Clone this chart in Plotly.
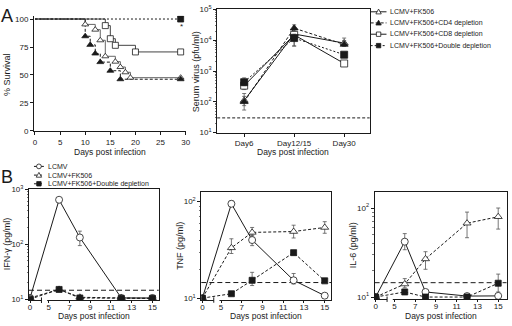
import plotly.graph_objects as go

W, H = 512, 326
FONT = "Liberation Sans, Arial, Helvetica, sans-serif"
INK = "#1a1a1a"
ERR = "#555555"

# ---------------- Panel A (left): survival ----------------
surv_fk506_days = [0, 10, 12, 13, 14, 16, 17, 18, 19, 29]
surv_fk506 = [100, 95.2, 90.5, 81.0, 66.7, 61.9, 57.1, 52.4, 47.6, 47.6]
surv_cd4_days = [0, 10, 11, 12, 13, 15, 17, 29]
surv_cd4 = [100, 84.6, 76.9, 69.2, 61.5, 53.8, 46.2, 46.2]
surv_cd8_days = [0, 14, 15, 16, 20, 29]
surv_cd8 = [100, 94.1, 82.4, 76.5, 70.6, 70.6]
surv_dbl_days = [0, 29]
surv_dbl = [100, 100]
surv_xticks = [0, 5, 10, 15, 20, 25, 30]
surv_yticks = [0, 25, 50, 75, 100]

# ---------------- Panel A (right): serum virus ----------------
virus_days = ["Day6", "Day12/15", "Day30"]
virus_fk506 = [110, 16000, 8100]
virus_fk506_up = [40, 9000, 3700]
virus_fk506_dn = [35, 6000, 1400]
virus_cd4 = [100, 24700, 7300]
virus_cd4_up = [86, 7000, 2500]
virus_cd4_dn = [46, 5000, 1000]
virus_cd8 = [335, 15000, 1760]
virus_cd8_up = [100, 5000, 300]
virus_cd8_dn = [85, 8500, 250]
virus_dbl = [435, 11800, 3400]
virus_dbl_up = [165, 4000, 600]
virus_dbl_dn = [100, 5300, 500]
virus_limit = 30
virus_yticks = [10, 100, 1000, 10000, 100000]
virus_yticktext = ["10<sup>1</sup>", "10<sup>2</sup>", "10<sup>3</sup>", "10<sup>4</sup>", "10<sup>5</sup>"]

# ---------------- Panel B: cytokines ----------------
cyt_days = [0, 6, 8, 12, 15]
cyt_xticks = [0, 5, 7, 9, 11, 13, 15]

ifn_lcmv = [10.5, 640, 132, 10.5, 10.5]
ifn_lcmv_up = [0, 60, 40, 0, 0]
ifn_lcmv_dn = [0, 50, 38, 0, 0]
ifn_fk506 = [10.5, 15, 10.8, 10.5, 10.3]
ifn_dbl = [10, 15, 10.5, 10.3, 10.3]

tnf_lcmv = [10, 95, 40, 15.3, 10.6]
tnf_lcmv_up = [0, 7, 5, 2.7, 0]
tnf_lcmv_dn = [0, 5, 5, 1.3, 0]
tnf_fk506 = [10, 33.2, 48, 49, 54]
tnf_fk506_up = [0, 8, 6, 8, 8]
tnf_fk506_dn = [0, 4.2, 4, 7, 7]
tnf_dbl = [10, 11.1, 15.3, 29.6, 15.1]
tnf_dbl_up = [0, 0, 3.2, 1.4, 0.9]
tnf_dbl_dn = [0, 0, 1.8, 1.6, 0.6]

il6_lcmv = [10, 41.9, 11.4, 10.25, 10.3]
il6_lcmv_up = [0, 9.7, 0, 0, 0]
il6_lcmv_dn = [0, 7.9, 0, 0, 0]
il6_fk506 = [10, 14, 26.8, 67.5, 79.8]
il6_fk506_up = [0, 2.1, 5.5, 22.5, 20.2]
il6_fk506_dn = [0, 1.3, 6.3, 21.1, 21.8]
il6_dbl = [10, 11.4, 10, 10, 14.3]
il6_dbl_up = [0, 0, 0, 0, 3.8]
il6_dbl_dn = [0, 0, 0, 0, 2.9]

cyt_limit = 14.5

# broken x axis: day 0 is drawn just before day 5
BREAK_ZERO = 3.2


def axis_pos(d):
    return d if d >= 5 else BREAK_ZERO + d * (4.0 - BREAK_ZERO) / 5.0


def fx(p):
    return p / W


def fy(p):
    return 1 - p / H


fig = go.Figure()

# ---------- survival traces ----------
surv_sets = [
    (surv_fk506_days, surv_fk506, "#666666", "solid", "triangle-up", "white"),
    (surv_cd4_days, surv_cd4, INK, "3px,2px", "triangle-up", INK),
    (surv_cd8_days, surv_cd8, "#444444", "solid", "square", "white"),
    (surv_dbl_days, surv_dbl, INK, "2px,2px", "square", INK),
]
for xs, ys, col, dash, sym, fill in surv_sets:
    fig.add_trace(go.Scatter(x=xs, y=ys, mode="lines", line=dict(color=col, width=1, dash=dash, shape="hv"),
                             xaxis="x", yaxis="y", showlegend=False, hoverinfo="skip"))
for xs, ys, col, dash, sym, fill in surv_sets:
    fig.add_trace(go.Scatter(x=xs[1:], y=ys[1:], mode="markers",
                             marker=dict(symbol=sym, size=6, color=fill, line=dict(color=INK, width=0.8)),
                             xaxis="x", yaxis="y", showlegend=False))

# ---------- serum virus traces ----------
virus_sets = [
    (virus_fk506, virus_fk506_up, virus_fk506_dn, "solid", "triangle-up", "white"),
    (virus_cd4, virus_cd4_up, virus_cd4_dn, "3px,2px", "triangle-up", INK),
    (virus_cd8, virus_cd8_up, virus_cd8_dn, "solid", "square", "white"),
    (virus_dbl, virus_dbl_up, virus_dbl_dn, "2px,2px", "square", INK),
]
for ys, up, dn, dash, sym, fill in virus_sets:
    fig.add_trace(go.Scatter(x=virus_days, y=ys, mode="lines+markers",
                             line=dict(color=INK, width=1, dash=dash),
                             marker=dict(symbol=sym, size=7, color=fill, line=dict(color=INK, width=0.8)),
                             error_y=dict(type="data", array=up, arrayminus=dn, color=ERR, thickness=0.8, width=2),
                             xaxis="x2", yaxis="y2", showlegend=False))

# ---------- cytokine traces ----------
cx = [axis_pos(d) for d in cyt_days]
panels = [
    ("3", [(ifn_lcmv, ifn_lcmv_up, ifn_lcmv_dn), (ifn_fk506, None, None), (ifn_dbl, None, None)]),
    ("4", [(tnf_lcmv, tnf_lcmv_up, tnf_lcmv_dn), (tnf_fk506, tnf_fk506_up, tnf_fk506_dn), (tnf_dbl, tnf_dbl_up, tnf_dbl_dn)]),
    ("5", [(il6_lcmv, il6_lcmv_up, il6_lcmv_dn), (il6_fk506, il6_fk506_up, il6_fk506_dn), (il6_dbl, il6_dbl_up, il6_dbl_dn)]),
]
cyt_styles = [
    ("solid", "circle", "white", 7),
    ("3px,2px", "triangle-up", "white", 7),
    ("3px,2px", "square", INK, 6),
]
for n, series in panels:
    for (ys, up, dn), (dash, sym, fill, sz) in zip(series, cyt_styles):
        ey = dict(type="data", array=up, arrayminus=dn, color=ERR, thickness=0.8, width=2) if up else None
        fig.add_trace(go.Scatter(x=cx, y=ys, mode="lines+markers",
                                 line=dict(color=INK, width=1, dash=dash),
                                 marker=dict(symbol=sym, size=sz, color=fill, line=dict(color=INK, width=0.8)),
                                 error_y=ey, xaxis="x" + n, yaxis="y" + n, showlegend=False))

# ---------- axes ----------
base = dict(showgrid=False, zeroline=False, showline=True, linecolor=INK, linewidth=1,
            ticks="outside", ticklen=3, tickwidth=1, tickcolor=INK,
            tickfont=dict(family=FONT, size=8, color=INK))
minor = dict(ticks="outside", ticklen=1.5, tickwidth=0.6, tickcolor=INK, dtick="D1", showgrid=False)

layout = dict(
    width=W, height=H, margin=dict(l=0, r=0, t=0, b=0),
    paper_bgcolor="white", plot_bgcolor="white", showlegend=False,
    font=dict(family=FONT, size=8, color=INK),
    xaxis=dict(base, domain=[fx(33.3), fx(187)], range=[-0.2, 30.1], tickvals=surv_xticks, anchor="y"),
    yaxis=dict(base, domain=[fy(129.3), fy(10)], range=[0, 103], tickvals=surv_yticks, anchor="x"),
    xaxis2=dict(base, domain=[fx(218.3), fx(372.3)], type="category", range=[-0.54, 2.51], mirror=True, anchor="y2"),
    yaxis2=dict(base, domain=[fy(131), fy(3.3)], type="log", range=[1, 5.01], tickvals=virus_yticks,
                ticktext=virus_yticktext, mirror=True, minor=minor, anchor="x2"),
)
cyt_geo = {
    "3": ([28.3, 159.3], [304.5, 189.5], [3.1, 15.61], [0.98, 3.0],
          [10, 100, 1000], ["10<sup>1</sup>", "10<sup>2</sup>", "10<sup>3</sup>"]),
    "4": ([202.3, 333.3], [304.3, 192.5], [3.1, 15.61], [0.98, 2.10],
          [10, 100], ["10<sup>1</sup>", "10<sup>2</sup>"]),
    "5": ([377.3, 510.5], [303.5, 192.5], [3.1, 15.8], [0.975, 2.18],
          [10, 100], ["10<sup>1</sup>", "10<sup>2</sup>"]),
}
for n, (xd, yd, xr, yr, tv, tt) in cyt_geo.items():
    layout["xaxis" + n] = dict(base, domain=[fx(xd[0]), fx(xd[1])], range=xr, mirror=True, ticklen=2,
                               ticklabelstandoff=-3,
                               tickvals=[axis_pos(d) for d in cyt_xticks], ticktext=[str(d) for d in cyt_xticks],
                               anchor="y" + n)
    layout["yaxis" + n] = dict(base, domain=[fy(yd[0]), fy(yd[1])], type="log", range=yr, mirror=True,
                               tickvals=tv, ticktext=tt, minor=minor, anchor="x" + n)
fig.update_layout(**layout)

shapes = []
annos = []

# detection limits
shapes.append(dict(type="line", xref="x2 domain", yref="y2", x0=0, x1=1, y0=virus_limit, y1=virus_limit,
                   line=dict(color=INK, width=1, dash="3px,2px")))
for n in ["3", "4", "5"]:
    shapes.append(dict(type="line", xref="x%s domain" % n, yref="y" + n, x0=0, x1=1, y0=cyt_limit, y1=cyt_limit,
                       line=dict(color=INK, width=1, dash="5px,3px"), layer="below"))
    # axis break on the bottom axis
    shapes.append(dict(type="line", xref="x" + n, yref="y%s domain" % n, x0=4.3, x1=4.85, y0=0, y1=0,
                       line=dict(color="white", width=3)))
    shapes.append(dict(type="line", xref="x" + n, yref="y%s domain" % n, x0=4.3, x1=4.3, y0=-0.025, y1=0.025,
                       line=dict(color=INK, width=1)))

# star next to double depletion survival
annos.append(dict(x=surv_dbl_days[-1], y=surv_dbl[-1], xref="x", yref="y", text="*", showarrow=False,
                  xanchor="center", yanchor="middle", yshift=-7, xshift=1, font=dict(size=8, color=INK)))


def paper_text(xp, yp, txt, size, angle=0, xanchor="center"):
    annos.append(dict(x=fx(xp), y=fy(yp), xref="paper", yref="paper", text=txt, showarrow=False,
                      textangle=angle, xanchor=xanchor, yanchor="middle",
                      font=dict(family=FONT, size=size, color=INK)))


# manual legends
def legend_row(x0px, ypx, dash, sym, fill, label, size=7, linelen=17):
    shapes.append(dict(type="line", xref="paper", yref="paper", x0=fx(x0px), x1=fx(x0px + linelen),
                       y0=fy(ypx), y1=fy(ypx), line=dict(color=INK, width=1, dash=dash)))
    cxp = fx(x0px + linelen / 2)
    cyp = fy(ypx)
    common = dict(xref="paper", yref="paper", xsizemode="pixel", ysizemode="pixel", xanchor=cxp, yanchor=cyp,
                  line=dict(color=INK, width=0.8), fillcolor=fill)
    if sym == "square":
        shapes.append(dict(common, type="rect", x0=-2.2, x1=2.2, y0=-2.2, y1=2.2))
    elif sym == "circle":
        shapes.append(dict(common, type="circle", x0=-2.4, x1=2.4, y0=-2.4, y1=2.4))
    else:
        shapes.append(dict(common, type="path", path="M-2.7,-2.1 L2.7,-2.1 L0,2.7 Z"))
    paper_text(x0px + linelen + 2, ypx, label, size, xanchor="left")


legend_a = ["LCMV+FK506", "LCMV+FK506+CD4 depletion", "LCMV+FK506+CD8 depletion", "LCMV+FK506+Double depletion"]
for (ys, up, dn, dash, sym, fill), lab, ypx in zip(virus_sets, legend_a, [6, 17.5, 29.2, 41]):
    legend_row(373.3, ypx, dash, sym, fill, lab, size=7, linelen=16)

legend_b = ["LCMV", "LCMV+FK506", "LCMV+FK506+Double depletion"]
for (dash, sym, fill, sz), lab, ypx in zip(cyt_styles, legend_b, [166, 175, 184]):
    legend_row(33.3, ypx, dash, sym, fill, lab, size=7, linelen=10)

# axis titles
for txt, xp, yp in [("% Survival", 5.5, 71), ("Serum virus (pfu/ml)", 196.5, 68),
                    ("IFN-γ (pg/ml)", 5.5, 246), ("TNF (pg/ml)", 180, 248), ("IL-6 (pg/ml)", 355, 248)]:
    paper_text(xp, yp, txt, 9, angle=-90)
for xp, yp in [(110, 151.5), (295, 151.5), (94, 321), (268, 321), (444, 321)]:
    paper_text(xp, yp, "Days post infection", 8.5)
# panel letters
paper_text(6.5, 10, "A", 18)
paper_text(6.5, 177, "B", 18)

fig.update_layout(shapes=shapes, annotations=annos)
fig.write_html("out.html", config={"displayModeBar": False, "staticPlot": True},
               post_script="document.body.style.margin='0';document.body.style.padding='0';")
